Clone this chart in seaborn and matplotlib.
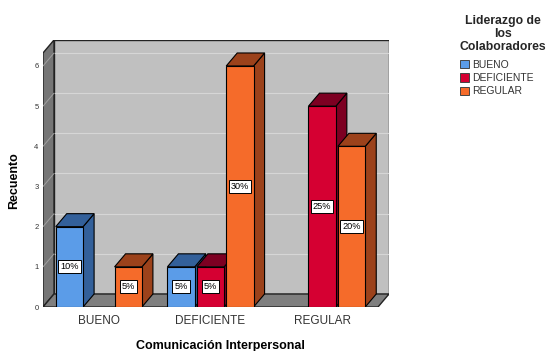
import matplotlib
matplotlib.use("Agg")
import matplotlib.pyplot as plt
from matplotlib.patches import Polygon, Rectangle, Patch
import seaborn as sns
import pandas as pd

# ---- data ----
categories = ["BUENO", "DEFICIENTE", "REGULAR"]
leader_levels = ["BUENO", "DEFICIENTE", "REGULAR"]
count_bueno = [2, 1, 0]        # per category
count_deficiente = [0, 1, 5]
count_regular = [1, 6, 4]
y_ticks = [0, 1, 2, 3, 4, 5, 6]

front_colors = ["#5b9ce8", "#d50032", "#f56b2a"]
side_colors = ["#33609a", "#7d0022", "#9c421b"]

counts = [count_bueno, count_deficiente, count_regular]
total = sum(sum(c) for c in counts)
rows = []
for lvl, vals in zip(leader_levels, counts):
    for cat, v in zip(categories, vals):
        rows.append({"cat": cat, "lid": lvl, "n": v})
df = pd.DataFrame(rows)

sns.set_theme(style="white")
plt.rcParams["font.family"] = ["Liberation Sans", "DejaVu Sans"]

W, H = 548, 351
fig = plt.figure(figsize=(W / 100, H / 100), dpi=100)
ax_left, ax_bottom, ax_w, ax_h = 43, 44, 346, 267
ax = fig.add_axes([ax_left / W, ax_bottom / H, ax_w / W, ax_h / H])

sns.barplot(data=df, x="cat", y="n", hue="lid", order=categories,
            hue_order=leader_levels, palette=front_colors, width=0.79,
            gap=0.07, edgecolor="black", linewidth=0.8, legend=False,
            saturation=1, ax=ax, errorbar=None)

# scales: 111.7 px per category, 40.17 px per count
xpx, ypx = 111.7, 40.17
dx, dy = 11 / xpx, 13 / ypx
x0, x1 = -0.5, 2.5
ytop = (ax_h - 13) / ypx
ax.set_xlim(x0, x1 + dx)
ax.set_ylim(0, ytop + dy)

# walls
ax.add_patch(Rectangle((x0 + dx, dy), x1 - x0, ytop, facecolor="#c0c0c0",
                       edgecolor="#222222", lw=1.0, zorder=0.3))
for t in y_ticks[1:]:
    ax.plot([x0 + dx, x1 + dx], [t + dy, t + dy], color="#d6d6d6", lw=0.8, zorder=0.4)
ax.add_patch(Polygon([(x0, 0), (x0, ytop), (x0 + dx, ytop + dy), (x0 + dx, dy)],
                     closed=True, facecolor="#767676", edgecolor="#222222",
                     lw=1.0, zorder=0.5))
for t in y_ticks[1:]:
    ax.plot([x0, x0 + dx], [t, t + dy], color="#a0a0a0", lw=0.7, zorder=0.55)
ax.add_patch(Polygon([(x0, 0), (x1, 0), (x1 + dx, dy), (x0 + dx, dy)],
                     closed=True, facecolor="#7f7f7f", edgecolor="#222222",
                     lw=1.0, zorder=0.6))

# 3D bar sides / tops and labels
bars = []
for i, cont in enumerate(ax.containers):
    for b in cont:
        bars.append((b, i))
bars.sort(key=lambda t: t[0].get_x())
for k, (b, i) in enumerate(bars):
    h = b.get_height()
    if h <= 0:
        b.set_visible(False)
        continue
    xl = b.get_x()
    xr = xl + b.get_width()
    z = 2 + 0.01 * k
    ax.add_patch(Polygon([(xr, 0), (xr, h), (xr + dx, h + dy), (xr + dx, dy)],
                         closed=True, facecolor=side_colors[i], edgecolor="black",
                         lw=0.8, zorder=z))
    ax.add_patch(Polygon([(xl, h), (xr, h), (xr + dx, h + dy), (xl + dx, h + dy)],
                         closed=True, facecolor=side_colors[i], edgecolor="black",
                         lw=0.8, zorder=z))
    b.set_zorder(z + 0.003)
    ax.text(xl + b.get_width() / 2, h / 2, f"{round(h / total * 100)}%",
            ha="center", va="center", fontsize=6.6, color="black", zorder=z + 0.006,
            bbox=dict(boxstyle="square,pad=0.22", facecolor="white",
                      edgecolor="black", lw=0.7))

for s in ax.spines.values():
    s.set_visible(False)
ax.set_yticks(y_ticks)
ax.set_yticklabels([str(t) for t in y_ticks], fontsize=5.5, color="#333333")
ax.set_xticks(range(len(categories)))
ax.set_xticklabels(categories, fontsize=8.5, color="#333333")
ax.tick_params(axis="y", length=0, pad=3.2)
ax.tick_params(axis="x", length=0, pad=5.5)
ax.set_xlabel("")
ax.set_ylabel("")
ax.patch.set_alpha(0)

fig.text(14 / W, 1 - 181 / H, "Recuento", rotation=90, ha="center", va="center",
         fontsize=9, fontweight="bold", color="black")
fig.text(220 / W, 1 - 349.5 / H, "Comunicación Interpersonal", ha="center",
         va="baseline", fontsize=9, fontweight="bold", color="black")

handles = [Patch(facecolor=c, edgecolor="#444444", lw=0.7) for c in front_colors]
leg = fig.legend(handles, leader_levels, title="Liderazgo de\nlos\nColaboradores",
                 loc="upper center", bbox_to_anchor=(503 / W, 1 - 9.5 / H),
                 frameon=False, fontsize=7.5, handlelength=0.85, handleheight=0.85,
                 handletextpad=0.3, labelspacing=0.32, borderpad=0,
                 title_fontproperties={"weight": "bold", "size": 8.8})
leg._legend_box.align = "left"
leg._legend_box.sep = 0.32 * 7.5 + 2.8
leg.get_title().set_multialignment("center")
leg.get_title().set_linespacing(1.1)
for t in leg.get_texts():
    t.set_color("#333333")

fig.savefig("out.png", dpi=100)
